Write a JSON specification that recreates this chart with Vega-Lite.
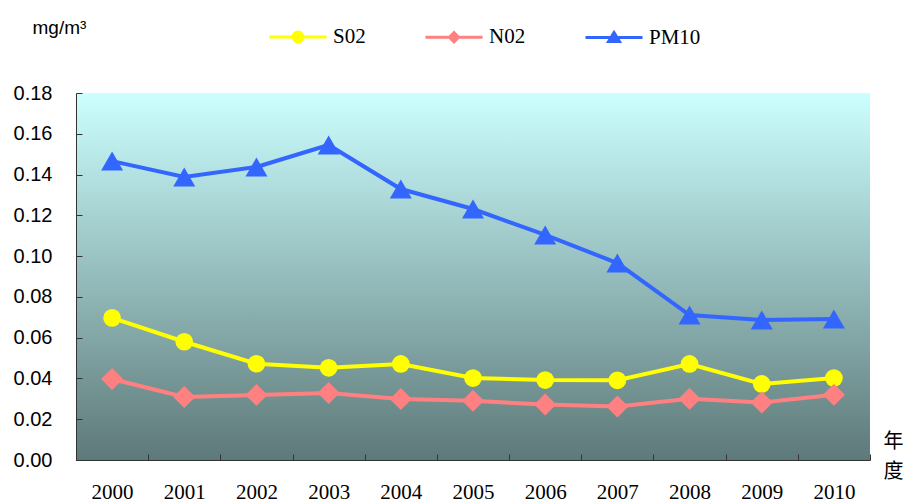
{
  "$schema": "https://vega.github.io/schema/vega-lite/v6.json",
  "width": 794,
  "height": 367,
  "autosize": "none",
  "padding": {"left": 76, "top": 93, "right": 43, "bottom": 42},
  "background": "white",
  "config": {
    "view": {
      "stroke": null,
      "fill": {"gradient": "linear", "x1": 0, "y1": 0, "x2": 0, "y2": 1,
        "stops": [{"offset": 0, "color": "#CCFFFF"}, {"offset": 1, "color": "#5E7979"}]}
    },
    "axis": {"domainColor": "#333333", "tickColor": "#333333", "grid": false, "labelColor": "black", "titleColor": "black"}
  },
  "data": {"values": [
    {"year": "2000", "series": "S02", "value": 0.0697},
    {"year": "2001", "series": "S02", "value": 0.0580},
    {"year": "2002", "series": "S02", "value": 0.0472},
    {"year": "2003", "series": "S02", "value": 0.0452},
    {"year": "2004", "series": "S02", "value": 0.0471},
    {"year": "2005", "series": "S02", "value": 0.0402},
    {"year": "2006", "series": "S02", "value": 0.0392},
    {"year": "2007", "series": "S02", "value": 0.0391},
    {"year": "2008", "series": "S02", "value": 0.0471},
    {"year": "2009", "series": "S02", "value": 0.0373},
    {"year": "2010", "series": "S02", "value": 0.0402},
    {"year": "2000", "series": "N02", "value": 0.0397},
    {"year": "2001", "series": "N02", "value": 0.0309},
    {"year": "2002", "series": "N02", "value": 0.0319},
    {"year": "2003", "series": "N02", "value": 0.0329},
    {"year": "2004", "series": "N02", "value": 0.0299},
    {"year": "2005", "series": "N02", "value": 0.0290},
    {"year": "2006", "series": "N02", "value": 0.0272},
    {"year": "2007", "series": "N02", "value": 0.0262},
    {"year": "2008", "series": "N02", "value": 0.0300},
    {"year": "2009", "series": "N02", "value": 0.0282},
    {"year": "2010", "series": "N02", "value": 0.0320},
    {"year": "2000", "series": "PM10", "value": 0.1466},
    {"year": "2001", "series": "PM10", "value": 0.1388},
    {"year": "2002", "series": "PM10", "value": 0.1437},
    {"year": "2003", "series": "PM10", "value": 0.1545},
    {"year": "2004", "series": "PM10", "value": 0.1329},
    {"year": "2005", "series": "PM10", "value": 0.1231},
    {"year": "2006", "series": "PM10", "value": 0.1104},
    {"year": "2007", "series": "PM10", "value": 0.0966},
    {"year": "2008", "series": "PM10", "value": 0.0711},
    {"year": "2009", "series": "PM10", "value": 0.0687},
    {"year": "2010", "series": "PM10", "value": 0.0692}
  ]},
  "encoding": {
    "x": {"field": "year", "type": "ordinal",
      "scale": {"type": "band", "paddingInner": 0, "paddingOuter": 0},
      "axis": {"tickBand": "extent", "tickSize": -6, "labelAngle": 0, "labelPadding": 27,
        "labelFont": "Liberation Serif", "labelFontSize": 21,
        "title": ["年", "度"], "titleFont": "Noto Sans CJK SC", "titleFontSize": 20, "titleFontWeight": "normal",
        "titleAngle": 0, "titleX": 817, "titleY": -29, "titleAlign": "center", "titleBaseline": "top", "titleLineHeight": 30}},
    "y": {"field": "value", "type": "quantitative",
      "scale": {"domain": [0, 0.18], "nice": false, "zero": true},
      "axis": {"values": [0, 0.02, 0.04, 0.06, 0.08, 0.1, 0.12, 0.14, 0.16, 0.18], "format": ".2f",
        "tickSize": -6, "labelPadding": 30, "labelFont": "Liberation Sans", "labelFontSize": 20,
        "title": "mg/m³", "titleFont": "Liberation Sans", "titleFontSize": 19, "titleFontWeight": "normal",
        "titleAngle": 0, "titleX": -44, "titleY": -66, "titleAlign": "left", "titleBaseline": "middle"}}
  },
  "layer": [
    {
      "mark": {"type": "line", "strokeWidth": 4},
      "encoding": {
        "color": {"field": "series", "type": "nominal",
          "scale": {"range": ["#FF8080", "#3366FF", "#FFFF00"]},
          "legend": null}
      }
    },
    {
      "transform": [{"filter": "datum.series === 'S02'"}],
      "mark": {"type": "point", "filled": true, "opacity": 1, "shape": "circle", "size": 314},
      "encoding": {"color": {"field": "series", "type": "nominal", "legend": null}}
    },
    {
      "transform": [{"filter": "datum.series === 'N02'"}],
      "mark": {"type": "point", "filled": true, "opacity": 1, "shape": "diamond", "size": 484},
      "encoding": {"color": {"field": "series", "type": "nominal", "legend": null}}
    },
    {
      "transform": [{"filter": "datum.series === 'PM10'"}],
      "mark": {"type": "point", "filled": true, "opacity": 1, "shape": "triangle-up", "size": 484},
      "encoding": {"color": {"field": "series", "type": "nominal", "legend": null}}
    },
    {
      "mark": {"type": "point", "filled": true, "opacity": 0, "strokeWidth": 3},
      "encoding": {
        "fill": {"field": "series", "type": "nominal",
          "scale": {"domain": ["S02", "N02", "PM10"], "range": ["#FFFF00", "#FF8080", "#3366FF"]},
          "legend": {"orient": "none", "legendX": 192, "legendY": -86, "direction": "horizontal", "title": null,
            "padding": 0, "symbolSize": 3249, "symbolStrokeWidth": 3, "symbolFillColor": "transparent", "symbolOpacity": 1,
            "labelFont": "Liberation Serif", "labelFontSize": 21, "labelColor": "black", "labelOffset": 5, "columnPadding": 53}},
        "stroke": {"field": "series", "type": "nominal",
          "scale": {"domain": ["S02", "N02", "PM10"], "range": ["#FFFF00", "#FF8080", "#3366FF"]},
          "legend": {"orient": "none", "legendX": 192, "legendY": -86, "direction": "horizontal", "title": null,
            "padding": 0, "symbolSize": 3249, "symbolStrokeWidth": 3, "symbolFillColor": "transparent", "symbolOpacity": 1,
            "labelFont": "Liberation Serif", "labelFontSize": 21, "labelColor": "black", "labelOffset": 5, "columnPadding": 53}},
        "shape": {"field": "series", "type": "nominal",
          "scale": {"domain": ["S02", "N02", "PM10"], "range": [
            "M-1,0H1M0.175,0A0.175,0.175 0 1 1 -0.175,0A0.175,0.175 0 1 1 0.175,0Z",
            "M-1,0H1M0,-0.16L0.16,0L0,0.16L-0.16,0Z",
            "M-1,0H1M0,-0.17L0.19,0.14L-0.19,0.14Z"]},
          "legend": {"orient": "none", "legendX": 192, "legendY": -86, "direction": "horizontal", "title": null,
            "padding": 0, "symbolSize": 3249, "symbolStrokeWidth": 3, "symbolFillColor": "transparent", "symbolOpacity": 1,
            "labelFont": "Liberation Serif", "labelFontSize": 21, "labelColor": "black", "labelOffset": 5, "columnPadding": 53}}
      }
    }
  ]
}
